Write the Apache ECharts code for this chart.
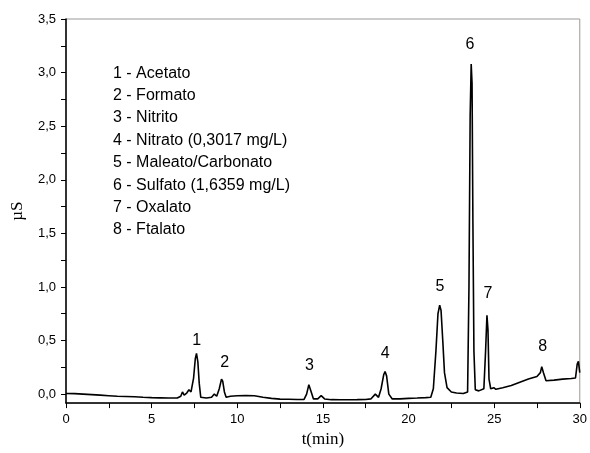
<!DOCTYPE html>
<html style="height: 100%">
<head>
<meta charset="utf-8">
<script src="https://cdn.jsdelivr.net/npm/echarts@6/dist/echarts.min.js"></script>
</head>
<body style="height: 100%; margin: 0; overflow: hidden; background: #fff;">
<div id="container" style="width: 590px; height: 453px;"></div>
<script>
// retention time (min) and signal (uS)
var times = [0, 0.5, 1.0, 1.5, 2.0, 2.5, 3.0, 3.5, 4.0, 4.5, 5.0, 5.5, 6.0, 6.5,
  6.7, 6.8, 6.9, 7.05, 7.18, 7.3, 7.45, 7.55, 7.62, 7.7, 7.78, 7.87, 8.2, 8.5,
  8.66, 8.8, 8.95, 9.08, 9.15, 9.25, 9.35, 9.6, 10.0, 10.5, 11.0, 11.5, 12.0,
  12.5, 13.0, 13.5, 13.9, 14.05, 14.18, 14.3, 14.45, 14.7, 14.9, 15.1, 15.5,
  16.0, 16.5, 17.0, 17.5, 17.8, 18.06, 18.25, 18.4, 18.55, 18.63, 18.72, 18.85,
  19.05, 19.5, 20.0, 20.5, 21.0, 21.3, 21.45, 21.6, 21.72, 21.82, 21.9, 22.0,
  22.1, 22.25, 22.5, 22.8, 23.2, 23.45, 23.53, 23.6, 23.66, 23.71, 23.76, 23.82,
  23.9, 24.1, 24.4, 24.5, 24.58, 24.64, 24.7, 24.8, 24.98, 25.1, 25.5, 26.0,
  26.5, 27.0, 27.5, 27.7, 27.78, 27.88, 28.03, 28.5, 29.0, 29.5, 29.75, 29.85,
  29.92, 30.0];
var signal = [0.005, 0.004, 0.0, -0.005, -0.01, -0.015, -0.02, -0.022, -0.025, -0.03, -0.033, -0.035, -0.037, -0.036,
  -0.02, 0.02, -0.01, 0.01, 0.04, 0.02, 0.15, 0.33, 0.38, 0.3, 0.1, -0.03, -0.037, -0.03,
  0.0, -0.02, 0.05, 0.14, 0.12, 0.02, -0.03, -0.02, -0.015, -0.013, -0.015, -0.03, -0.04,
  -0.047, -0.048, -0.05, -0.05, 0.0, 0.088, 0.03, -0.045, -0.045, -0.015, -0.045, -0.052,
  -0.053, -0.053, -0.052, -0.05, -0.045, 0.0, -0.03, 0.05, 0.18, 0.21, 0.17, 0.0,
  -0.045, -0.045, -0.04, -0.037, -0.033, -0.03, 0.05, 0.4, 0.75, 0.83, 0.78, 0.5,
  0.2, 0.06, 0.02, 0.01, 0.005, 0.02, 1.0, 2.6, 3.08, 2.9, 1.6, 0.4,
  0.04, 0.03, 0.05, 0.4, 0.735, 0.6, 0.14, 0.05, 0.06, 0.045, 0.06, 0.08,
  0.11, 0.14, 0.165, 0.2, 0.256, 0.2, 0.125, 0.13, 0.14, 0.145, 0.15, 0.28,
  0.306, 0.2];

// peak numbers and where their labels sit
var peakNames = ['1', '2', '3', '4', '5', '6', '7', '8'];
var peakT = [7.63, 9.26, 14.21, 18.64, 21.84, 23.59, 24.64, 27.84];
var peakY = [0.50, 0.29, 0.27, 0.38, 1.00, 3.26, 0.94, 0.44];

var legendLines = [
  '1 - Acetato',
  '2 - Formato',
  '3 - Nitrito',
  '4 - Nitrato (0,3017 mg/L)',
  '5 - Maleato/Carbonato',
  '6 - Sulfato (1,6359 mg/L)',
  '7 - Oxalato',
  '8 - Ftalato'
];

var xLabels = [0, 5, 10, 15, 20, 25, 30];
var xTicks = [0, 2.5, 5, 7.5, 10, 12.5, 15, 17.5, 20, 22.5, 25, 27.5, 30];
var yLabels = [0, 0.5, 1.0, 1.5, 2.0, 2.5, 3.0, 3.5];
var yTicks = [0, 0.25, 0.5, 0.75, 1.0, 1.25, 1.5, 1.75, 2.0, 2.25, 2.5, 2.75, 3.0, 3.25, 3.5];

var lineData = times.map(function (t, i) { return [t, signal[i]]; });
var peakData = peakT.map(function (t, i) { return { value: [t, peakY[i]], name: peakNames[i] }; });

var chart = echarts.init(document.getElementById('container'));
chart.setOption({
  animation: false,
  grid: {
    left: 66, right: 9, top: 19, bottom: 49,
    show: true, borderColor: '#999', borderWidth: 1
  },
  xAxis: {
    type: 'value', min: 0, max: 30,
    name: 't(min)', nameLocation: 'middle', nameGap: 27,
    nameTextStyle: { fontFamily: 'Liberation Serif', fontSize: 17, color: '#000' },
    axisLine: { onZero: false, lineStyle: { color: '#000', width: 1.5 } },
    axisTick: { show: true, inside: false, length: 5, customValues: xTicks, lineStyle: { color: '#000' } },
    axisLabel: { customValues: xLabels, margin: 10, fontFamily: 'Liberation Sans', fontSize: 13, color: '#000' },
    splitLine: { show: false }
  },
  yAxis: {
    type: 'value', min: -0.084, max: 3.5,
    name: 'µS', nameLocation: 'middle', nameGap: 40, nameRotate: 90,
    nameTextStyle: { fontFamily: 'Liberation Serif', fontSize: 17, color: '#000' },
    axisLine: { onZero: false, lineStyle: { color: '#000', width: 1.5 } },
    axisTick: { show: true, inside: false, length: 5, customValues: yTicks, lineStyle: { color: '#000' } },
    axisLabel: {
      customValues: yLabels, margin: 10, fontFamily: 'Liberation Sans', fontSize: 13, color: '#000',
      formatter: function (v) { return v.toFixed(1).replace('.', ','); }
    },
    splitLine: { show: false }
  },
  series: [
    {
      type: 'line',
      data: lineData,
      symbol: 'none',
      lineStyle: { color: '#000', width: 1.6 }
    },
    {
      type: 'scatter',
      data: peakData,
      symbolSize: 0,
      itemStyle: { opacity: 1 },
      label: {
        show: true, position: 'inside', formatter: '{b}',
        fontFamily: 'Liberation Sans', fontSize: 16, color: '#000', opacity: 1
      }
    }
  ],
  graphic: [
    {
      type: 'text', left: 113, top: 62,
      style: {
        text: legendLines.join('\n'),
        font: '16px "Liberation Sans"',
        lineHeight: 22.4,
        fill: '#000'
      }
    }
  ]
});
</script>
</body>
</html>
